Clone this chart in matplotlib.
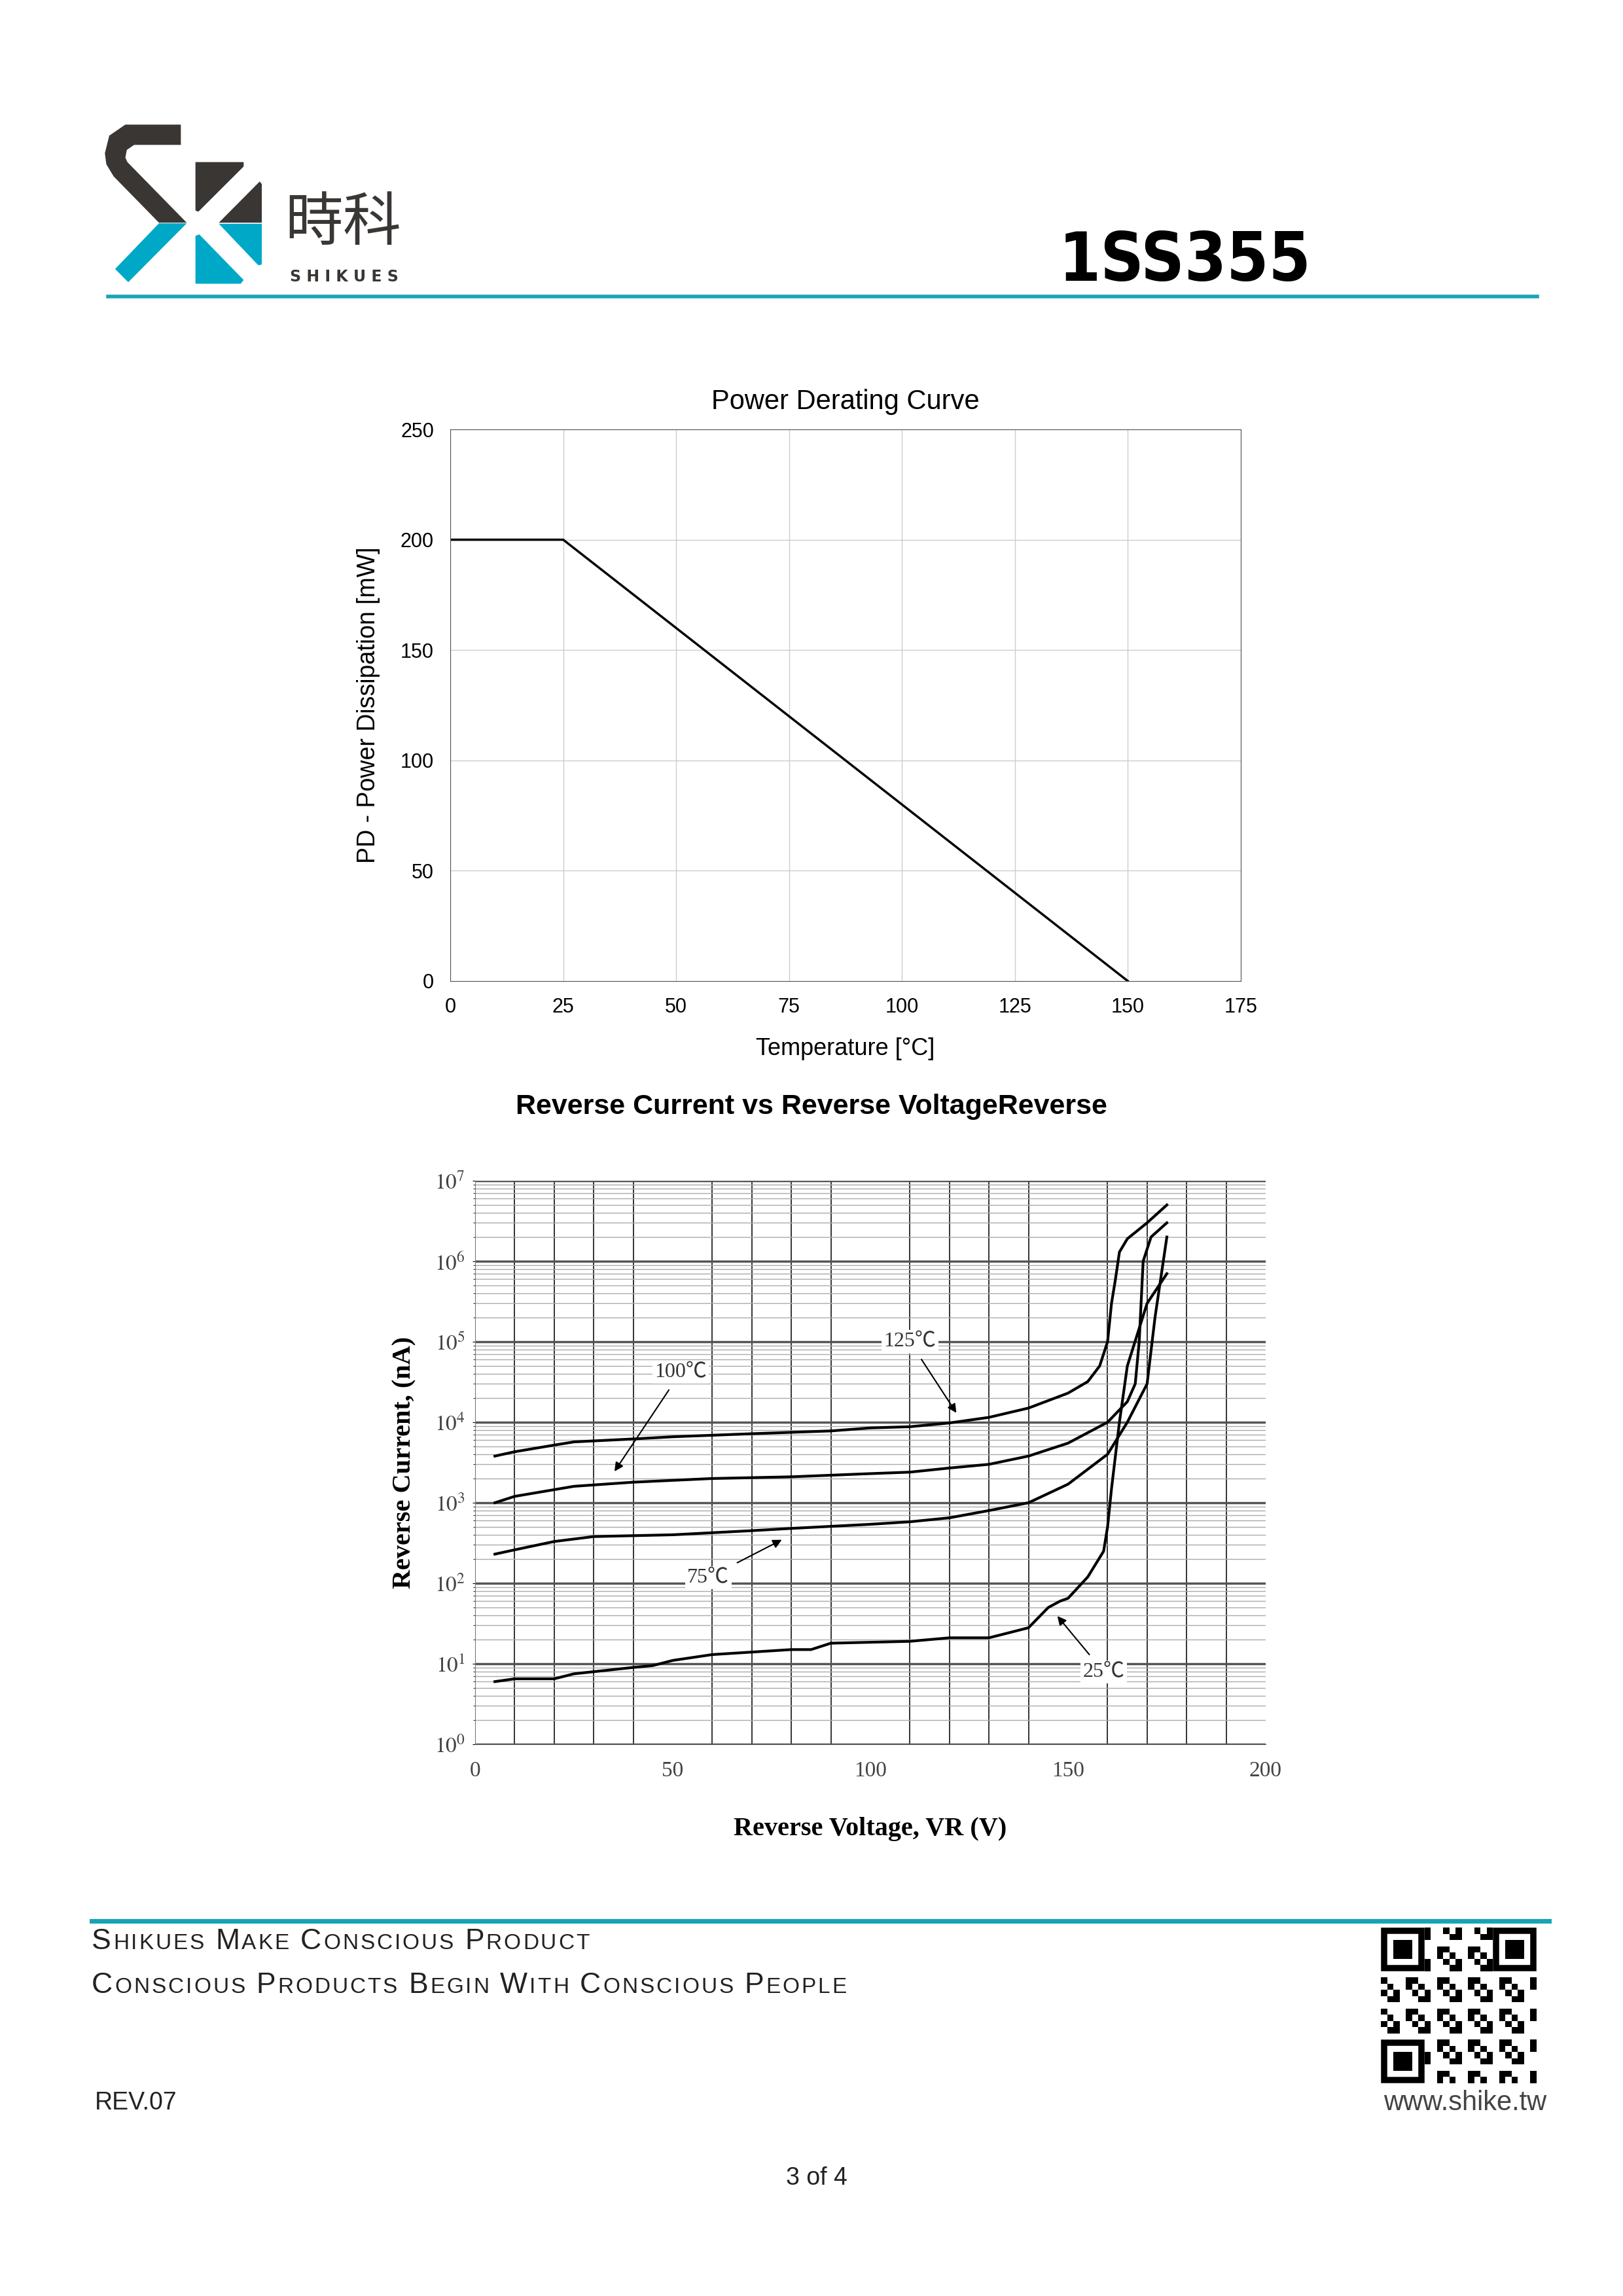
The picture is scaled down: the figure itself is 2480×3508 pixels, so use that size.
import matplotlib
matplotlib.use("Agg")
import matplotlib.pyplot as plt
import numpy as np
from matplotlib.patches import Polygon, Rectangle
from matplotlib.ticker import LogLocator, FixedLocator, NullFormatter

plt.rcParams["font.family"] = ["Liberation Sans", "Noto Sans CJK TC", "DejaVu Sans"]
plt.rcParams["mathtext.fontset"] = "stix"

# ---- power derating data ----
temp_c = [0, 25, 150]
power_mw = [200, 200, 0]

# ---- reverse current data (V, nA) ----
v_125 = [5, 10, 20, 25, 40, 50, 70, 90, 100, 110, 120, 130, 140, 150, 155, 158, 160, 161, 162, 163, 165, 170, 175]
i_125 = [3800, 4300, 5200, 5700, 6200, 6600, 7200, 7800, 8500, 8800, 9800, 11500, 15000, 23000, 32000,
         50000, 1e5, 3e5, 6e5, 1.3e6, 1.9e6, 3e6, 5e6]
v_100 = [5, 10, 25, 40, 60, 80, 100, 110, 120, 130, 140, 150, 160, 165, 167, 168, 169, 171, 175]
i_100 = [1000, 1200, 1600, 1800, 2000, 2100, 2300, 2400, 2700, 3000, 3800, 5500, 10000, 18000, 30000,
         1e5, 1e6, 2e6, 3e6]
v_75 = [5, 10, 20, 30, 50, 70, 80, 100, 110, 120, 130, 140, 150, 160, 165, 170, 172, 175]
i_75 = [230, 260, 330, 380, 400, 450, 480, 540, 580, 650, 800, 1000, 1700, 4000, 10000, 30000, 2e5, 2e6]
v_25 = [5, 10, 20, 25, 40, 45, 50, 60, 80, 85, 90, 110, 120, 130, 140, 145, 148, 150, 155, 159, 160, 161,
        163, 165, 170, 175]
i_25 = [6, 6.5, 6.5, 7.5, 9, 9.5, 11, 13, 15, 15, 18, 19, 21, 21, 28, 50, 60, 65, 120, 250, 500, 1500,
        10000, 5e4, 3e5, 7e5]

labels_rc = ["125℃", "100℃", "75℃", "25℃"]
label_pos = [(110, 1e5), (52, 10 ** 4.62), (59, 10 ** 2.07), (159, 10 ** 0.9)]
arrow_tip = [(122, 1.25e4), (35, 10 ** 3.37), (78, 10 ** 2.55), (147, 10 ** 1.61)]
decades = list(range(8))

W, H = 2480, 3508
fig = plt.figure(figsize=(W / 100, H / 100), dpi=100)

# ---- page decoration ----
page = fig.add_axes([0, 0, 1, 1])
page.set_xlim(0, W)
page.set_ylim(H, 0)
page.axis("off")

dark = "#3a3634"
blue = "#00a8c8"
teal = "#17a3b5"


def lz(pts):
    return [(100 + x / 2.24, 150 + y / 2.97) for x, y in pts]


logo_shapes = [
    ([(205, 120), (395, 120), (395, 212), (235, 212), (210, 235), (205, 270), (212, 290), (415, 565),
      (320, 565), (165, 355), (140, 300), (135, 250), (150, 170)], dark),
    ([(320, 568), (415, 568), (215, 835), (170, 775)], blue),
    ([(445, 290), (610, 290), (610, 310), (455, 515), (445, 510)], dark),
    ([(665, 378), (672, 390), (672, 565), (525, 565)], dark),
    ([(525, 570), (672, 570), (672, 755), (660, 758)], blue),
    ([(445, 625), (458, 618), (610, 825), (600, 842), (445, 842)], blue),
]
for pts, col in logo_shapes:
    page.add_patch(Polygon(lz(pts), closed=True, color=col, lw=0))
page.text(100 + 950 / 2.24, 150 + 570 / 2.97, "時科", fontsize=64, color=dark, ha="center", va="center",
          family=["Noto Sans CJK TC", "DejaVu Sans"])
page.text(100 + 955 / 2.24, 150 + 812 / 2.97, "S H I K U E S", fontsize=17, color=dark, ha="center",
          va="center", fontweight="bold", family="DejaVu Sans")
page.text(1618, 400, "1SS355", fontsize=74, fontweight="bold", color="black", ha="left", va="center",
          family="DejaVu Sans", stretch="condensed")
page.plot([165, 2349], [453, 453], color=teal, lw=4)

# footer
page.plot([140, 2367], [2935, 2935], color=teal, lw=5)


def small_caps(x, y, s, big=32, small=24):
    r = fig.canvas.get_renderer()
    for ch in s:
        if ch.islower():
            t = page.text(x, y, ch.upper(), fontsize=small, color="#222222", va="baseline",
                          family="Liberation Sans")
        else:
            t = page.text(x, y, ch, fontsize=big, color="#222222", va="baseline", family="Liberation Sans")
        bb = t.get_window_extent(renderer=r)
        x += bb.width + 3 if ch != " " else 14


small_caps(140, 2978, "Shikues Make Conscious Product")
small_caps(140, 3045, "Conscious Products Begin With Conscious People")
page.text(145, 3213, "REV.07", fontsize=27, va="center", color="#222222", family="Liberation Sans")
page.text(1248, 3328, "3 of 4", fontsize=27, va="center", ha="center", color="#222222")
page.text(2239, 3213, "www.shike.tw", fontsize=30, va="center", ha="center", color="#444444")

# QR-like block
qx, qy, qs = 2110, 2945, 238
n = 25
cell = qs / n
for i in range(n):
    for j in range(n):
        if ((i * 7 + j * 13 + i * j) % 5) < 2:
            page.add_patch(Rectangle((qx + j * cell, qy + i * cell), cell, cell, color="black", lw=0))
for fx, fy in [(0, 0), (n - 7, 0), (0, n - 7)]:
    page.add_patch(Rectangle((qx + fx * cell, qy + fy * cell), 7 * cell, 7 * cell, color="white", lw=0))
    page.add_patch(Rectangle((qx + (fx + 0.5) * cell, qy + (fy + 0.5) * cell), 6 * cell, 6 * cell,
                             fill=False, ec="black", lw=cell * 0.72))
    page.add_patch(Rectangle((qx + (fx + 2) * cell, qy + (fy + 2) * cell), 3 * cell, 3 * cell, color="black",
                             lw=0))

# ---- chart 1: power derating ----
ax1 = fig.add_axes([688 / W, 1 - 1499 / H, (1896 - 688) / W, (1499 - 656) / H])
ax1.plot(temp_c, power_mw, color="black", lw=2.5)
ax1.set_xlim(0, 175)
ax1.set_ylim(0, 250)
ax1.set_xticks(range(0, 176, 25))
ax1.set_yticks(range(0, 251, 50))
ax1.grid(color="#cccccc", lw=1)
ax1.tick_params(length=0, labelsize=22, pad=18)
for sp in ax1.spines.values():
    sp.set_color("#555555")
ax1.set_title("Power Derating Curve", fontsize=30, pad=22)
ax1.set_xlabel("Temperature [°C]", fontsize=26, labelpad=22)
ax1.set_ylabel("PD - Power Dissipation [mW]", fontsize=27, labelpad=22)

fig.text(0.5, 1 - 1691 / H, "Reverse Current vs Reverse VoltageReverse", fontsize=31, fontweight="bold",
         ha="center", va="center")

# ---- chart 2: reverse current ----
ax2 = fig.add_axes([726 / W, 1 - 2665 / H, (1934 - 726) / W, (2665 - 1804) / H])
ax2.set_yscale("log")
for v, i in [(v_125, i_125), (v_100, i_100), (v_75, i_75), (v_25, i_25)]:
    ax2.plot(v, i, color="black", lw=3, zorder=3)
ax2.set_xlim(0, 200)
ax2.set_ylim(1, 1e7)
ax2.set_xticks(range(0, 201, 50))
ax2.xaxis.set_minor_locator(FixedLocator(range(0, 201, 10)))
ax2.set_yticks([10.0 ** k for k in decades])
ax2.set_yticklabels([rf"$10^{{{k}}}$" for k in decades])
ax2.yaxis.set_minor_locator(LogLocator(base=10, subs=np.arange(2, 10), numticks=100))
ax2.yaxis.set_minor_formatter(NullFormatter())
ax2.set_ylim(1, 1e7)
ax2.grid(which="major", axis="y", color="#555555", lw=2.5)
ax2.grid(which="minor", axis="y", color="#aaaaaa", lw=1)
ax2.grid(which="minor", axis="x", color="#333333", lw=1.4)
ax2.tick_params(axis="x", which="both", length=0, labelsize=24, pad=18)
ax2.tick_params(axis="y", which="major", length=3, labelsize=24, pad=8)
ax2.tick_params(axis="y", which="minor", length=2)
for lab in ax2.get_xticklabels() + ax2.get_yticklabels():
    lab.set_family("Liberation Serif")
    lab.set_color("#444444")
for sp in ["top", "right"]:
    ax2.spines[sp].set_visible(False)
ax2.spines["left"].set_color("#777777")
ax2.spines["bottom"].set_color("#555555")
for lab, pos, tip in zip(labels_rc, label_pos, arrow_tip):
    ax2.annotate(lab, xy=tip, xytext=pos, fontsize=23, family=["Liberation Serif", "Noto Sans CJK TC"],
                 color="#333333", ha="center", va="center", zorder=5,
                 bbox=dict(boxstyle="square,pad=0.1", fc="white", ec="none"),
                 arrowprops=dict(arrowstyle="-|>", color="black", lw=1.5, mutation_scale=20, shrinkA=8))
ax2.set_ylabel("Reverse Current, (nA)", fontsize=29, fontweight="bold", family="Liberation Serif",
               labelpad=20)
ax2.set_xlabel("Reverse Voltage, VR (V)", fontsize=29, fontweight="bold", family="Liberation Serif",
               labelpad=40)

fig.savefig("out.png", dpi=100)
